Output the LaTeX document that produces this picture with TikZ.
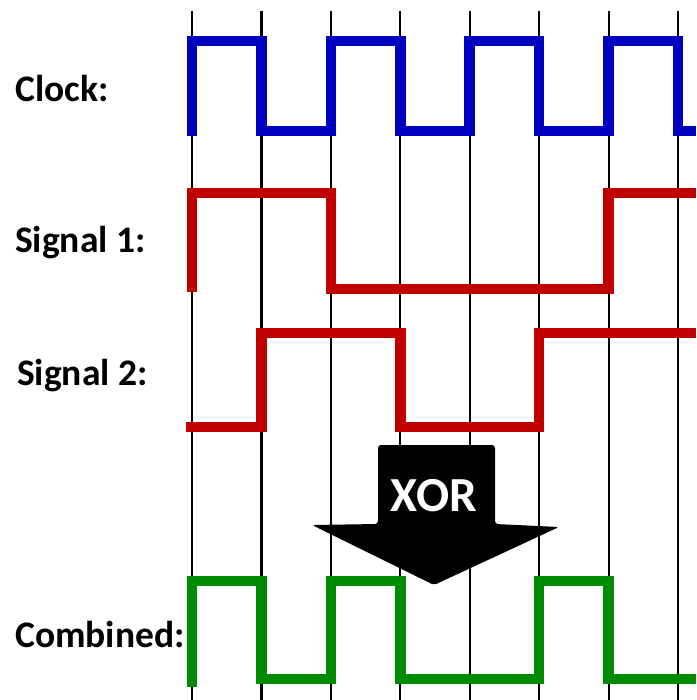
\documentclass[tikz,border=0pt]{standalone}
\usepackage{fontspec}
\setmainfont{Carlito}
\usepackage{tikz}
\definecolor{clockblue}{RGB}{0,0,192}
\definecolor{sigred}{RGB}{192,0,0}
\definecolor{combgreen}{RGB}{0,138,0}

\begin{document}
\begin{tikzpicture}[x=1pt, y=-1pt]
    % Define styles
    \tikzstyle{gridline} = [black, line width=2.2pt]
    \tikzstyle{wave} = [line width=10.5pt, line join=miter, line cap=butt]
    \tikzstyle{label} = [anchor=base west, inner sep=0pt, font=\bfseries\fontsize{37.5}{42}\selectfont]

    \useasboundingbox (0,0) rectangle (696,700);

    % Grid
    \foreach \t in {192,261.4,330.9,400.3,469.7,539.1,608.6,678}
        \draw [gridline] (\t,11) -- (\t,700);

    % Signals
    \draw [wave, clockblue] (192,136) -- (192,41) -- (261.4,41) -- (261.4,131) -- (330.9,131) -- (330.9,41) -- (400.3,41) -- (400.3,131) -- (469.7,131) -- (469.7,41) -- (539.1,41) -- (539.1,131) -- (608.6,131) -- (608.6,41) -- (678,41) -- (678,131) -- (696,131);
    \draw [wave, sigred] (192,292) -- (192,193) -- (330.9,193) -- (330.9,289) -- (608.6,289) -- (608.6,193) -- (696,193);
    \draw [wave, sigred] (186,427) -- (261.4,427) -- (261.4,333) -- (400.3,333) -- (400.3,427) -- (539.1,427) -- (539.1,333) -- (696,333);
    \draw [wave, combgreen] (192,687) -- (192,581) -- (261.4,581) -- (261.4,679) -- (330.9,679) -- (330.9,581) -- (400.3,581) -- (400.3,679) -- (539.1,679) -- (539.1,581) -- (608.6,581) -- (608.6,679) -- (696,679);

    % XOR arrow
    \fill [black, rounded corners=3pt] (378,445) -- (495,445) -- (495,524) -- (559,527) -- (434,585) -- (312,525) -- (378,524) -- cycle;
    \node (xor) [anchor=base, inner sep=0pt, white, font=\bfseries\fontsize{49}{54}\selectfont] at (434,511) {XOR};

    % Labels
    \node (clock) [label] at (15,102) {Clock:};
    \node (sig1) [label] at (15,252) {Signal 1:};
    \node (sig2) [label] at (17,385) {Signal 2:};
    \node (comb) [label] at (15,647) {Combined:};
\end{tikzpicture}
\end{document}
